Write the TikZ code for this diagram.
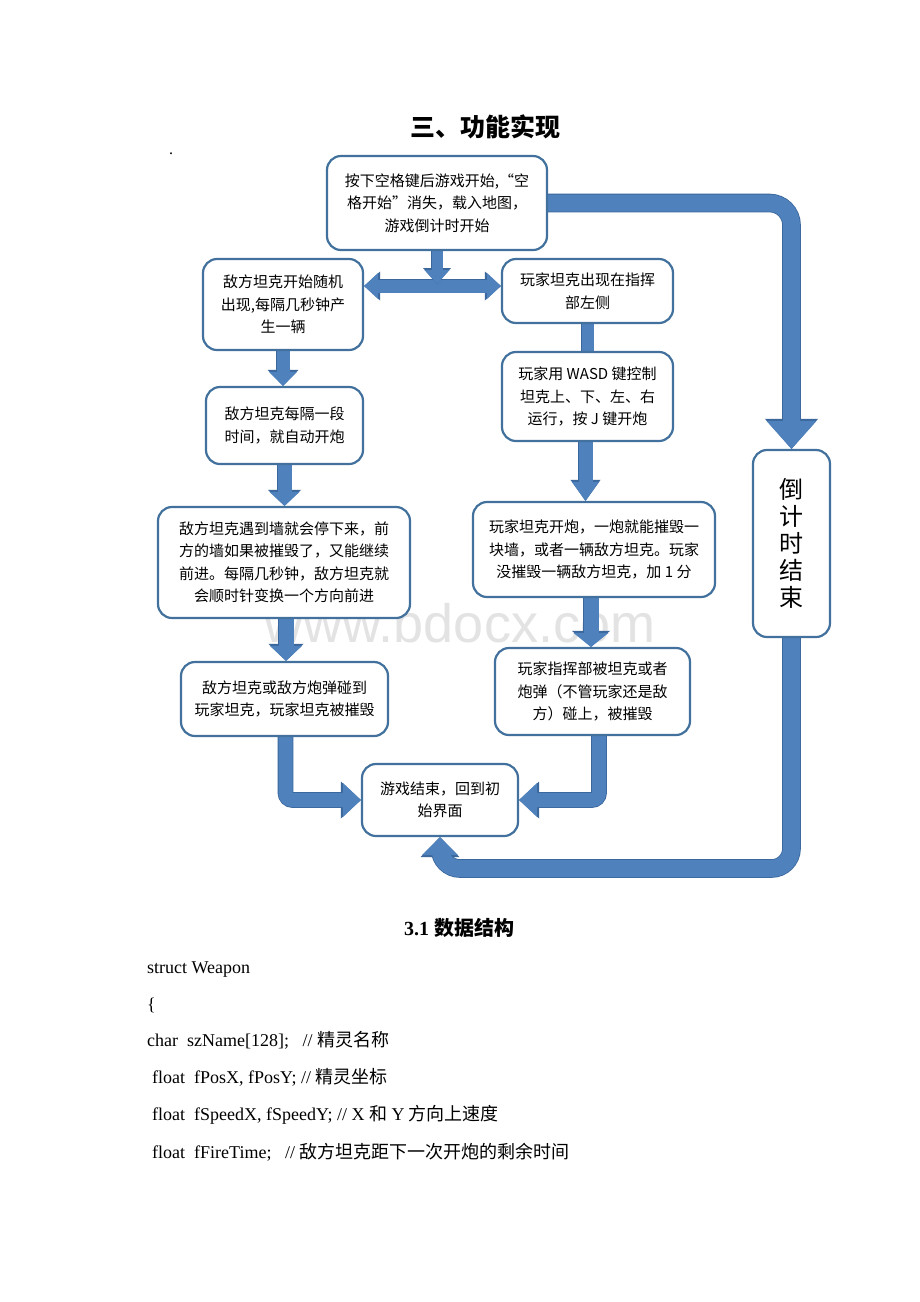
\documentclass[tikz,border=0pt]{standalone}
\usepackage{fontspec}
\setmainfont{Liberation Serif}
\newfontfamily\cjk{Noto Sans CJK SC}
\newfontfamily\wmfont{Liberation Sans}
\newcommand\zh[1]{{\cjk #1}}
\usetikzlibrary{arrows.meta,calc,backgrounds}
\definecolor{boxline}{HTML}{41719C}
\definecolor{arrfill}{HTML}{4F81BD}
\definecolor{arrline}{HTML}{3A679C}
\newcommand\flowarrow[5][]{%
  \pgfmathsetmacro\fsw{#2+1.6}\pgfmathsetmacro\fhw{#3+3}\pgfmathsetmacro\fhl{#4+2}%
  \draw[arrline, line width=\fsw pt, #1, -{Triangle[width=\fhw pt,length=\fhl pt,line width=0pt]}] #5;
  \draw[arrfill, line width=#2pt, #1, -{Triangle[width=#3pt,length=#4pt,line width=0pt]}] #5;
}
\newcommand\flowdouble[4]{%
  \pgfmathsetmacro\fsw{#1+1.6}\pgfmathsetmacro\fhw{#2+3}\pgfmathsetmacro\fhl{#3+2}%
  \draw[arrline, line width=\fsw pt, {Triangle[width=\fhw pt,length=\fhl pt,line width=0pt]}-{Triangle[width=\fhw pt,length=\fhl pt,line width=0pt]}] #4;
  \draw[arrfill, line width=#1pt, {Triangle[width=#2pt,length=#3pt,line width=0pt]}-{Triangle[width=#2pt,length=#3pt,line width=0pt]}] #4;
}
\newcommand\flowbar[2]{%
  \pgfmathsetmacro\fsw{#1+1.6}%
  \draw[arrline, line width=\fsw pt] #2;
  \draw[arrfill, line width=#1pt] #2;
}
\begin{document}
\begin{tikzpicture}[x=1pt,y=-1pt,
  box/.style={draw=boxline, line width=2.2pt, rounded corners=14pt, fill=white,
    align=center, inner sep=0pt, font=\cjk\fontsize{15}{22.5}\selectfont},
  code/.style={anchor=base west, inner sep=0pt, font=\fontsize{18}{18}\selectfont}]
\useasboundingbox (0,0) rectangle (920,1302);

% ---- title ----
\node[inner sep=0pt, font=\cjk\bfseries\fontsize{25}{25}\selectfont] (title) at (485,127) {三、功能实现};
\node[inner sep=0pt, font=\fontsize{16}{16}\selectfont] (dot) at (171,154) {.};

% ---- boxes ----
\node[box, minimum width=220pt, minimum height=94pt] (top) at (437,203)
  {按下空格键后游戏开始,“空\\格开始”消失，载入地图，\\游戏倒计时开始};
\node[box, minimum width=160pt, minimum height=91pt] (l1) at (283,304.5)
  {敌方坦克开始随机\\出现,每隔几秒钟产\\生一辆};
\node[box, minimum width=171pt, minimum height=64pt] (r1) at (587.5,291)
  {玩家坦克出现在指挥\\部左侧};
\node[box, minimum width=157pt, minimum height=77pt] (l2) at (284.5,425.5)
  {敌方坦克每隔一段\\时间，就自动开炮};
\node[box, minimum width=171pt, minimum height=89pt] (r2) at (587.5,396.5)
  {玩家用 WASD 键控制\\坦克上、下、左、右\\运行，按 J 键开炮};
\node[box, minimum width=252pt, minimum height=111pt] (l3) at (284,562.5)
  {敌方坦克遇到墙就会停下来，前\\方的墙如果被摧毁了，又能继续\\前进。每隔几秒钟，敌方坦克就\\会顺时针变换一个方向前进};
\node[box, minimum width=242pt, minimum height=95pt] (r3) at (594,549.5)
  {玩家坦克开炮，一炮就能摧毁一\\块墙，或者一辆敌方坦克。玩家\\没摧毁一辆敌方坦克，加 1 分};
\node[box, minimum width=207pt, minimum height=74pt] (l4) at (284.5,699)
  {敌方坦克或敌方炮弹碰到\\玩家坦克，玩家坦克被摧毁};
\node[box, minimum width=195pt, minimum height=87pt] (r4) at (592.5,691.5)
  {玩家指挥部被坦克或者\\炮弹（不管玩家还是敌\\方）碰上，被摧毁};
\node[box, minimum width=156pt, minimum height=72pt] (end) at (440,800)
  {游戏结束，回到初\\始界面};
\node[box, minimum width=77pt, minimum height=187pt, font=\cjk\fontsize{24}{27}\selectfont] (cd) at (791.5,543.5)
  {倒\\计\\时\\结\\束};

\coordinate (mid) at (437,286);
\coordinate (midtip) at (437,284);
\coordinate (lo) at (440,868.5);

% ---- background: watermark and block arrows ----
\begin{pgfonlayer}{background}
\fill[white] (0,0) rectangle (920,1302);
\node[inner sep=0pt, font=\wmfont\fontsize{54}{54}\selectfont, text=black!11, anchor=base] (wm) at (460,642) {www.bdocx.com};
\flowarrow[rounded corners=22pt]{17}{50}{28}{(top.east) -| (cd.north)}
\flowarrow[rounded corners=20pt]{17}{36}{18}{(cd.south) |- (lo) -- (end.south)}
\flowarrow{13}{28}{14}{(l1.south) -- (l1.south |- l2.north)}
\flowarrow{14}{30}{14}{(l2.south) -- (l2.south |- l3.north)}
\flowarrow{15}{32}{15}{([xshift=2pt]l3.south) -- ([xshift=2pt]l3.south |- l4.north)}
\flowarrow[rounded corners=7pt]{14}{34}{18}{([xshift=1pt]l4.south) |- (end.west)}
\flowbar{12}{(r1.south) -- (r1.south |- r2.north)}
\flowarrow{14}{27}{19}{([xshift=-2pt]r2.south) -- ([xshift=-2pt]r2.south |- r3.north)}
\flowarrow{15}{35}{14}{([xshift=-3pt]r3.south) -- ([xshift=-3pt]r3.south |- r4.north)}
\flowarrow[rounded corners=7pt]{14}{34}{18}{([xshift=6.5pt]r4.south) |- (end.east)}
\flowdouble{13}{26}{14}{(l1.east |- mid) -- (r1.west |- mid)}
\flowarrow{11}{25}{14}{(top.south) -- (top.south |- midtip)}
\end{pgfonlayer}

% ---- section text ----
\node[anchor=base, inner sep=0pt, font=\bfseries\fontsize{20}{20}\selectfont] (h31) at (459,935) {3.1 {\cjk\bfseries 数据结构}};
\node[code] (s1) at (147,973) {struct Weapon};
\node[code] (s2) at (147,1010) {\{};
\node[code] (s3) at (147,1046) {char\ \ szName[128];\ \ \ // \zh{精灵名称}};
\node[code] (s4) at (152,1083) {float\ \ fPosX, fPosY; // \zh{精灵坐标}};
\node[code] (s5) at (152,1120) {float\ \ fSpeedX, fSpeedY; // X \zh{和} Y \zh{方向上速度}};
\node[code] (s6) at (152,1158) {float\ \ fFireTime;\ \ \ // \zh{敌方坦克距下一次开炮的剩余时间}};
\end{tikzpicture}
\end{document}
